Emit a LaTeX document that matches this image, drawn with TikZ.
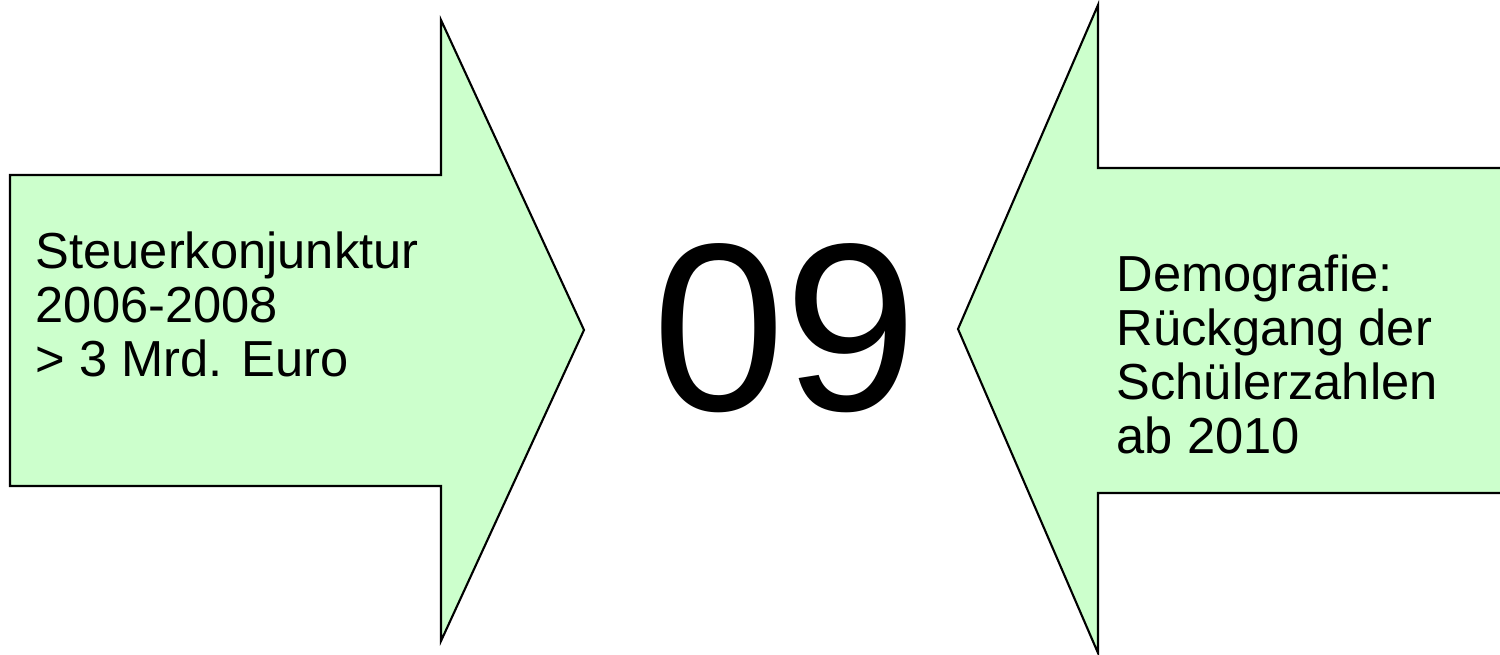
\documentclass[tikz,border=0pt]{standalone}
\usepackage{fontspec}
\setmainfont{Liberation Sans}
\usetikzlibrary{positioning}
\definecolor{paleGreen}{HTML}{CCFFCC}

\begin{document}
\begin{tikzpicture}[x=0.01cm,y=-0.01cm,
 blockarrow/.style={draw=black,fill=paleGreen,line width=0.6pt,line join=miter},
 lbl/.style={align=left,font=\fontsize{14.4}{15.4}\selectfont,inner sep=0pt,anchor=north west}]
 \clip (0,0) rectangle (1500,655);
 % left arrow, pointing right
 \draw[blockarrow] (10,175)--(441,175)--(441,20)--(584,330)--(441,641)--(441,486)--(10,486)--cycle;
 % right arrow, pointing left (body runs past the edge)
 \draw[blockarrow] (1520,168)--(1098,168)--(1098,5)--(958,329)--(1098,653)--(1098,493)--(1520,493)--cycle;
 \node[lbl] (tax) at (35,231) {Steuerkonjunktur\\2006-2008\\> 3 Mrd. Euro};
 \node[font=\fontsize{68}{70}\selectfont,inner sep=0pt] (year) at (785,328) {09};
 \node[lbl] (demo) at (1116,254) {Demografie:\\Rückgang der\\Schülerzahlen\\ab 2010};
\end{tikzpicture}
\end{document}
